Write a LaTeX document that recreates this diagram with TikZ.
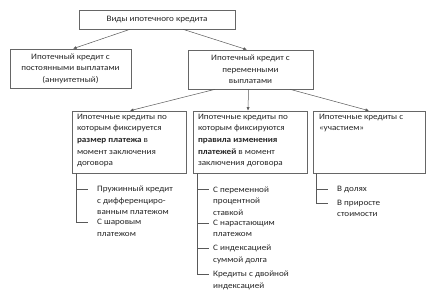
\documentclass[tikz,border=0pt]{standalone}
\usepackage{fontspec}
\setmainfont{Carlito}[FakeStretch=1.1]
\usetikzlibrary{arrows.meta}
\begin{document}
\begin{tikzpicture}[x=1pt,y=-1pt,
  every node/.style={font=\fontsize{8.3}{11.6}\selectfont, text=black!85},
  box/.style={draw=black!60, line width=0.6pt, inner sep=0pt, fill=white},
  cbox/.style={box, align=center},
  item/.style={inner sep=0pt, anchor=north west, align=left},
  arr/.style={draw=black!65, line width=0.5pt, -{Latex[length=3.5pt,width=3pt]}},
  tree/.style={draw=black!65, line width=0.5pt}]
\useasboundingbox (0,0) rectangle (426,298);
\fill[white] (0,0) rectangle (426,298);

\node[cbox, minimum width=156pt, minimum height=19pt] (top) at (157,19.5) {Виды ипотечного кредита};
\node[cbox, minimum width=121pt, minimum height=39pt] (l) at (70.5,68.5) {Ипотечный кредит с\\постоянными выплатами\\(аннуитетный)};
\node[cbox, minimum width=125pt, minimum height=39pt] (r) at (250.5,69.5) {Ипотечный кредит с\\переменными\\выплатами};

\node[box, minimum width=114pt, minimum height=62pt] (b1) at (129,142) {\begin{minipage}[c][56pt][t]{104pt}\raggedright Ипотечные кредиты по\\которым фиксируется\\\textbf{размер платежа} в\\момент заключения\\договора\end{minipage}};
\node[box, minimum width=114pt, minimum height=62pt] (b2) at (250,142) {\begin{minipage}[c][56pt][t]{104pt}\raggedright Ипотечные кредиты по\\которым фиксируются\\\textbf{правила изменения}\\\textbf{платежей} в момент\\заключения договора\end{minipage}};
\node[box, minimum width=112pt, minimum height=62pt] (b3) at (369,142) {\begin{minipage}[c][56pt][t]{100pt}\raggedright Ипотечные кредиты с\\«участием»\end{minipage}};

\draw[arr] ([xshift=-27pt]top.south) -- ([xshift=2.5pt]l.north);
\draw[arr] ([xshift=26pt]top.south) -- ([xshift=-3.5pt]r.north);
\draw[arr] ([xshift=-35.5pt]r.south) -- ([xshift=1pt]b1.north);
\draw[arr] ([xshift=-2pt]r.south) -- ([xshift=-2pt]b2.north);
\draw[arr] ([xshift=39.5pt]r.south) -- (b3.north);

% tree 1
\node[item] (i11) at (97,185.7) {Пружинный кредит\\с дифференциро-\\ванным платежом};
\node[item] (i12) at (97,219.2) {С шаровым\\платежом};
\draw[tree] ([xshift=5pt]b1.south west) |- ([xshift=-9pt,yshift=-3.3pt]i12.north west);
\draw[tree] ([xshift=-20pt,yshift=-3.3pt]i11.north west) -- ([xshift=-9pt,yshift=-3.3pt]i11.north west);

% tree 2
\node[item] (i21) at (213,186.2) {С переменной\\процентной\\ставкой};
\node[item] (i22) at (213,219.7) {С нарастающим\\платежом};
\node[item] (i23) at (213,244.7) {С индексацией\\суммой долга};
\node[item] (i24) at (213,270.7) {Кредиты с двойной\\индексацией};
\draw[tree] ([xshift=5pt]b2.south west) |- ([xshift=-4pt,yshift=-3.3pt]i24.north west);
\foreach \n in {i21,i22,i23}
  \draw[tree] ([xshift=-15pt,yshift=-3.3pt]\n.north west) -- ([xshift=-4pt,yshift=-3.3pt]\n.north west);

% tree 3
\node[item] (i31) at (337,185.7) {В долях};
\node[item] (i32) at (337,199.7) {В приросте\\стоимости};
\draw[tree] ([xshift=4pt]b3.south west) |- ([xshift=-9pt,yshift=-3.3pt]i32.north west);
\draw[tree] ([xshift=-20pt,yshift=-3.3pt]i31.north west) -- ([xshift=-9pt,yshift=-3.3pt]i31.north west);
\end{tikzpicture}
\end{document}
